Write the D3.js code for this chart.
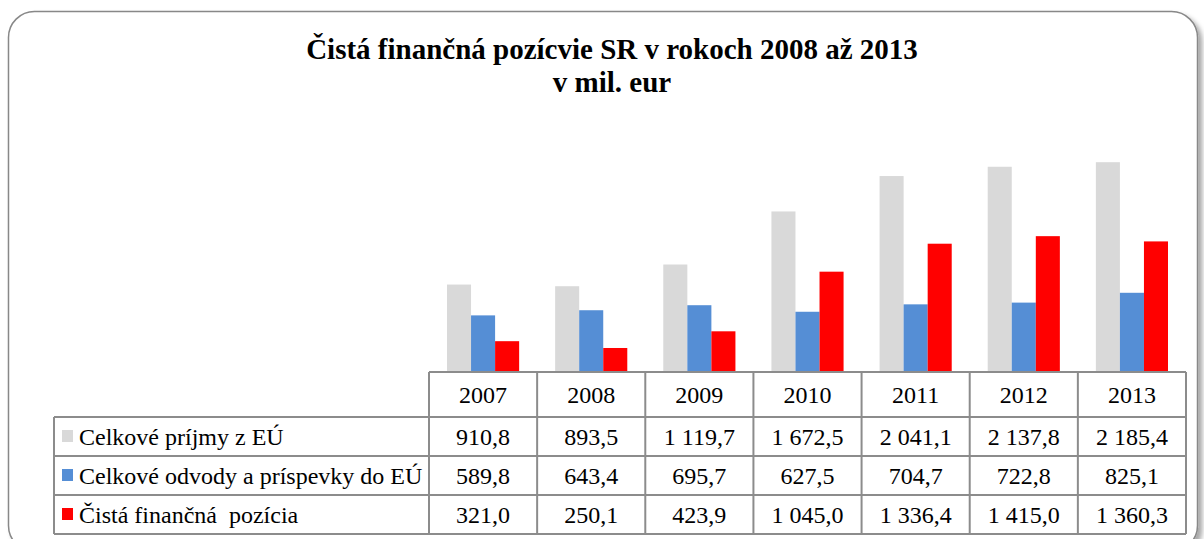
<!DOCTYPE html>
<html>
<head>
<meta charset="utf-8">
<script src="https://cdn.jsdelivr.net/npm/d3@7"></script>
<style>
  html, body { margin: 0; padding: 0; background: #fff; }
  svg { display: block; }
</style>
</head>
<body>
<div class="vis"></div>
<script>
'use strict';

// data (mil. eur)
var years = ['2007', '2008', '2009', '2010', '2011', '2012', '2013'];
var seriesNames = ['Celkové príjmy z EÚ', 'Celkové odvody a príspevky do EÚ', 'Čistá finančná  pozícia'];
var seriesColors = ['#d9d9d9', '#558ed5', '#ff0000'];
var prijmy = [910.8, 893.5, 1119.7, 1672.5, 2041.1, 2137.8, 2185.4];
var odvody = [589.8, 643.4, 695.7, 627.5, 704.7, 722.8, 825.1];
var cista = [321.0, 250.1, 423.9, 1045.0, 1336.4, 1415.0, 1360.3];
var titleLines = ['Čistá finančná pozícvie SR v rokoch 2008 až 2013', 'v mil. eur'];

var width = 1204;
var height = 539;

var series = [prijmy, odvody, cista];

// table geometry
var tableLeft = 54;
var labelRight = 429;
var tableRight = 1186;
var headerTop = 372;
var headerBottom = 417;
var rowHeight = 39;
var gridColor = '#8c8c8c';
var serif = "'Liberation Serif', 'Times New Roman', Times, serif";

var fmt = d3.formatLocale({ decimal: ',', thousands: ' ', grouping: [3], currency: ['', ''] }).format(',.1f');

var svg = d3.select('.vis')
  .append('svg')
  .attr('width', width)
  .attr('height', height)
  .attr('font-family', serif);

// shadow for the rounded frame
var defs = svg.append('defs');
var filter = defs.append('filter')
  .attr('id', 'shadow')
  .attr('x', '-5%').attr('y', '-5%')
  .attr('width', '110%').attr('height', '110%');
filter.append('feDropShadow')
  .attr('dx', 4).attr('dy', 4)
  .attr('stdDeviation', 2.5)
  .attr('flood-color', '#000')
  .attr('flood-opacity', 0.35);

svg.append('rect')
  .attr('x', 8.5)
  .attr('y', 11.5)
  .attr('width', 1189)
  .attr('height', 540)
  .attr('rx', 26)
  .attr('ry', 26)
  .attr('fill', '#fff')
  .attr('stroke', '#888')
  .attr('stroke-width', 1.5)
  .attr('filter', 'url(#shadow)');

// title
svg.append('text')
  .attr('x', 612)
  .attr('text-anchor', 'middle')
  .style('font-size', '29px')
  .style('font-weight', 'bold')
  .selectAll('tspan')
  .data(titleLines)
  .enter()
  .append('tspan')
  .attr('x', 612)
  .attr('y', function(d, i) { return 59 + i * 33; })
  .text(function(d) { return d; });

// scales
var x = d3.scaleBand()
  .domain(years)
  .range([labelRight, tableRight]);

var xSub = d3.scaleBand()
  .domain(d3.range(series.length))
  .range([18, x.bandwidth() - 18]);

var y = d3.scaleLinear()
  .domain([0, 2500])
  .range([headerTop, headerTop - 240]);

// bars
var groups = svg.append('g')
  .selectAll('g')
  .data(series)
  .enter()
  .append('g')
  .attr('fill', function(d, i) { return seriesColors[i]; });

groups.selectAll('rect')
  .data(function(d, i) { return d.map(function(v, j) { return { s: i, year: years[j], value: v }; }); })
  .enter()
  .append('rect')
  .attr('x', function(d) { return x(d.year) + xSub(d.s); })
  .attr('y', function(d) { return y(d.value); })
  .attr('width', xSub.bandwidth())
  .attr('height', function(d) { return y(0) - y(d.value); });

// data table
var table = svg.append('g')
  .attr('fill', 'none')
  .attr('stroke', gridColor)
  .attr('stroke-width', 2);

var tableBottom = headerBottom + rowHeight * series.length;

// header row (years only)
table.append('line')
  .attr('x1', labelRight).attr('x2', tableRight)
  .attr('y1', headerTop).attr('y2', headerTop);

// row lines
d3.range(series.length + 1).forEach(function(i) {
  var ry = headerBottom + i * rowHeight;
  table.append('line')
    .attr('x1', tableLeft).attr('x2', tableRight)
    .attr('y1', ry).attr('y2', ry);
});

// vertical lines
table.append('line')
  .attr('x1', tableLeft).attr('x2', tableLeft)
  .attr('y1', headerBottom).attr('y2', tableBottom);

years.concat(['end']).forEach(function(yr, i) {
  var vx = i < years.length ? x(yr) : tableRight;
  table.append('line')
    .attr('x1', vx).attr('x2', vx)
    .attr('y1', headerTop).attr('y2', tableBottom);
});

// year labels
svg.append('g')
  .selectAll('text')
  .data(years)
  .enter()
  .append('text')
  .attr('x', function(d) { return x(d) + x.bandwidth() / 2; })
  .attr('y', headerTop + 31)
  .attr('text-anchor', 'middle')
  .style('font-size', '24px')
  .text(function(d) { return d; });

// series rows
var rows = svg.append('g')
  .selectAll('g')
  .data(series)
  .enter()
  .append('g')
  .attr('transform', function(d, i) { return 'translate(0,' + (headerBottom + i * rowHeight) + ')'; });

rows.append('rect')
  .attr('x', 62)
  .attr('y', 13)
  .attr('width', 11)
  .attr('height', 12)
  .attr('fill', function(d, i) { return seriesColors[i]; });

rows.append('text')
  .attr('x', 79)
  .attr('y', 28)
  .style('font-size', '24px')
  .style('white-space', 'pre')
  .text(function(d, i) { return seriesNames[i]; });

rows.selectAll('text.val')
  .data(function(d) { return d; })
  .enter()
  .append('text')
  .attr('class', 'val')
  .attr('x', function(d, j) { return x(years[j]) + x.bandwidth() / 2; })
  .attr('y', 28)
  .attr('text-anchor', 'middle')
  .style('font-size', '24px')
  .text(function(d) { return fmt(d); });
</script>
</body>
</html>
